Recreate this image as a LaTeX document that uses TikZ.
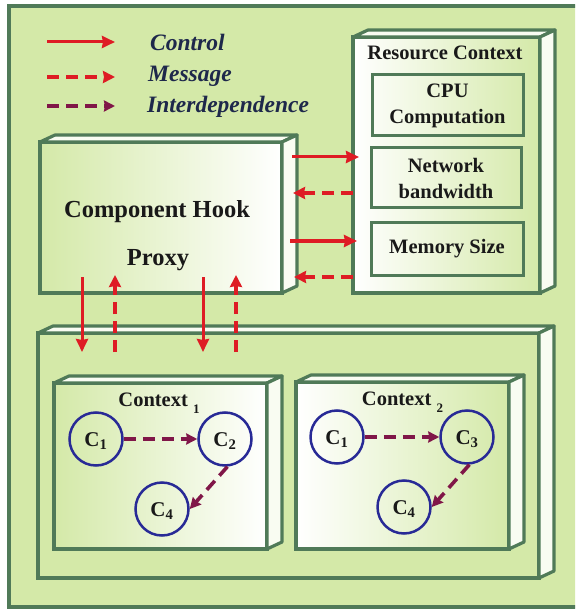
\documentclass[tikz,border=0pt]{standalone}
\usepackage{fontspec}
\setmainfont{Liberation Serif}
\usetikzlibrary{arrows.meta}
\definecolor{leaf}{RGB}{212,233,168}
\definecolor{frameline}{RGB}{80,122,88}
\definecolor{ctrlred}{RGB}{222,28,36}
\definecolor{depviolet}{RGB}{128,22,72}
\definecolor{circblue}{RGB}{40,42,150}
\definecolor{legendink}{RGB}{30,40,75}
\newcommand{\ctxsub}[1]{\raisebox{-7pt}{\fontsize{13}{13}\selectfont #1}}

\begin{document}
\begin{tikzpicture}[x=1pt, y=-1pt]
        \tikzstyle{box} = [rectangle, draw=frameline, line width=3.2pt, outer sep=0pt, inner sep=0pt]
        \tikzstyle{face} = [draw=frameline, line width=3.2pt, fill=leaf!15, line join=round]
        \tikzstyle{res} = [rectangle, draw=frameline, line width=3pt, outer sep=0pt, inner sep=0pt, align=center, font=\fontsize{20.5}{26}\selectfont\bfseries, text=black!90]
        \tikzstyle{comp} = [circle, draw=circblue, line width=2.5pt, minimum size=53pt, inner sep=0pt, font=\fontsize{21}{21}\selectfont\bfseries, text=black!90, text height=14pt, text depth=0pt]
        \tikzstyle{title} = [anchor=base, inner sep=0pt, font=\fontsize{20.5}{24}\selectfont\bfseries, text=black!90]
        \tikzstyle{hooktext} = [anchor=base, inner sep=0pt, font=\fontsize{24.5}{28}\selectfont\bfseries, text=black!90]
        \tikzstyle{legend} = [anchor=west, inner sep=0pt, text height=16pt, text depth=5pt, font=\fontsize{23.5}{28}\selectfont\bfseries\itshape, text=legendink]
        \tikzstyle{control} = [ctrlred, line width=3pt, -{Stealth[length=13pt, width=12pt, inset=1pt]}]
        \tikzstyle{message} = [ctrlred, line width=3.6pt, dash pattern=on 12pt off 7pt, -{Stealth[length=12pt, width=12pt, inset=1pt]}]
        \tikzstyle{interdep} = [depviolet, line width=3.6pt, dash pattern=on 12pt off 7pt, -{Stealth[length=11pt, width=11pt, inset=1pt]}]
        \clip (0,0) rectangle (575,609);
        % frame and boxes
		\node [box, left color=leaf, middle color=white, right color=leaf, minimum width=571pt, minimum height=601pt] (0) at (294.5, 306.5) {};
		\node [box, left color=leaf, middle color=white, right color=leaf, minimum width=501pt, minimum height=245pt] (6) at (288.5, 455.5) {};
		\node [box, left color=leaf, right color=white, minimum width=213pt, minimum height=166pt] (7) at (160.5, 466) {};
		\node [box, left color=white, right color=leaf, minimum width=213pt, minimum height=167pt] (8) at (402.5, 465.5) {};
		\node [box, left color=leaf, right color=white, minimum width=242pt, minimum height=151pt] (1) at (161, 217.5) {};
		\node [box, left color=white, right color=leaf, minimum width=187pt, minimum height=256pt] (2) at (446.5, 165) {};
		\foreach \n in {1,2,6,7,8} {
			\draw [face] (\n.north west) -- ++(15,-7) -- ([shift={(15,-7)}]\n.north east) -- (\n.north east) -- cycle;
			\draw [face] (\n.north east) -- ([shift={(15,-7)}]\n.north east) -- ([shift={(15,-7)}]\n.south east) -- (\n.south east) -- cycle;
		}
		% resource entries
		\node [res, minimum width=151pt, minimum height=61pt] (3) at (447.5, 105.5) {CPU\\Computation};
		\node [res, minimum width=150pt, minimum height=60pt] (4) at (446, 178) {Network\\bandwidth};
		\node [res, minimum width=152pt, minimum height=52pt] (5) at (447, 249) {Memory Size};
		% texts
		\node [hooktext] (15) at (157, 218) {Component Hook};
		\node [hooktext] (16) at (158, 265) {Proxy};
		\node [title] (17) at (445, 60) {Resource Context};
		\node [title] (18) at (159, 406) {Context \ctxsub{1}};
		\node [title] (19) at (402.5, 405) {Context \ctxsub{2}};
		% components
		\node [comp] (9) at (96, 439) {C\textsubscript{1}};
		\node [comp] (10) at (225, 439) {C\textsubscript{2}};
		\node [comp] (11) at (162, 509) {C\textsubscript{4}};
		\node [comp] (12) at (337, 437) {C\textsubscript{1}};
		\node [comp] (13) at (467, 437) {C\textsubscript{3}};
		\node [comp] (14) at (404, 507) {C\textsubscript{4}};
		% legend
		\node [legend] (20) at (150, 45) {Control};
		\node [legend] (21) at (148, 76) {Message};
		\node [legend] (22) at (147, 107) {Interdependence};
		\draw [control] ([shift={(-103,-3)}]20.west) to ([shift={(-35,-3)}]20.west);
		\draw [message] ([shift={(-101,1)}]21.west) to ([shift={(-33,1)}]21.west);
		\draw [interdep] ([shift={(-100,-1)}]22.west) to ([shift={(-32,-1)}]22.west);
		% hook <-> resources
		\draw [control] ([shift={(10,-60.5)}]1.east) to ([shift={(6,-8)}]2.west);
		\draw [message] ([shift={(0,28)}]2.west) to ([shift={(11,-24.5)}]1.east);
		\draw [control] ([shift={(8,23.5)}]1.east) to ([shift={(4,76)}]2.west);
		\draw [message] ([shift={(0,112)}]2.west) to ([shift={(12,59.5)}]1.east);
		% hook <-> contexts
		\draw [control] ([shift={(-79,-16)}]1.south) to ([shift={(-206.5,19)}]6.north);
		\draw [message] ([shift={(-173.5,19)}]6.north) to ([shift={(-46,-18)}]1.south);
		\draw [control] ([shift={(42,-16)}]1.south) to ([shift={(-85.5,19)}]6.north);
		\draw [message] ([shift={(-52.5,19)}]6.north) to ([shift={(75,-18)}]1.south);
		% interdependences
		\draw [interdep] (9) to (10);
		\draw [interdep] (10.-85) to (11.east);
		\draw [interdep] (12) to (13);
		\draw [interdep] (13.-85) to (14.east);
    \end{tikzpicture}
\end{document}
